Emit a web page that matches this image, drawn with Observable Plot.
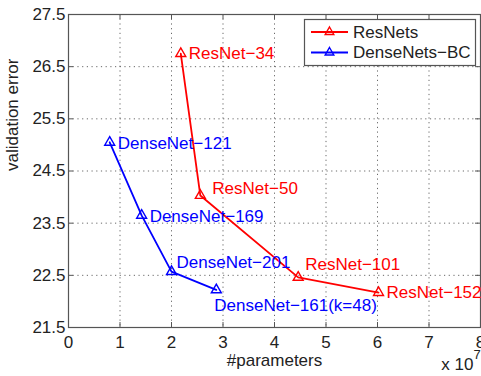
<!DOCTYPE html>
<html><head><meta charset="utf-8">
<script src="https://cdn.jsdelivr.net/npm/d3@7"></script>
<script src="https://cdn.jsdelivr.net/npm/@observablehq/plot@0.6"></script>
<style>
html,body{margin:0;padding:0;background:#fff;}
#chart{position:relative;width:481px;height:376px;overflow:hidden;}
</style></head><body><div id="chart"></div>
<script>
// ---- data ----
const resnetNames = ["ResNet−34", "ResNet−50", "ResNet−101", "ResNet−152"];
const resnetParams = [2.18, 2.56, 4.46, 6.02];   // × 10^7
const resnetError = [26.75, 24.03, 22.46, 22.17];
const densenetNames = ["DenseNet−121", "DenseNet−169", "DenseNet−201", "DenseNet−161(k=48)"];
const densenetParams = [0.80, 1.42, 2.00, 2.87]; // × 10^7
const densenetError = [25.05, 23.65, 22.57, 22.22];
const seriesNames = ["ResNets", "DenseNets−BC"];
const xTicks = [0, 1, 2, 3, 4, 5, 6, 7, 8];
const yTicks = [21.5, 22.5, 23.5, 24.5, 25.5, 26.5, 27.5];
const xLabel = "#parameters";
const yLabel = "validation error";

// ---- layout / style ----
const W = 481, H = 376;
const M = {left: 68, right: 1, top: 14, bottom: 49};
const FH = H - M.top - M.bottom, FW = W - M.left - M.right;
const colors = {ResNets: "#ff0000", "DenseNets−BC": "#0000ff"};
const labelOffset = {
  "ResNet−34": [8, 0], "ResNet−50": [12, -7], "ResNet−101": [7, -13], "ResNet−152": [8, 0],
  "DenseNet−121": [8, 1], "DenseNet−169": [8, 1], "DenseNet−201": [5, -9], "DenseNet−161(k=48)": [-2, 16]
};
const font = "'Liberation Sans', Arial, Helvetica, sans-serif";
const FS = 17;

const resnet = resnetNames.map((name, i) => ({name, params: resnetParams[i], error: resnetError[i], family: seriesNames[0]}));
const densenet = densenetNames.map((name, i) => ({name, params: densenetParams[i], error: densenetError[i], family: seriesNames[1]}));
const all = [...resnet, ...densenet];

const axisColor = "#555";
const tickLen = 5;

const plot = Plot.plot({
  width: W, height: H,
  marginLeft: M.left, marginRight: M.right, marginTop: M.top, marginBottom: M.bottom,
  style: {fontFamily: font, fontSize: FS + "px", color: "#222", background: "#fff"},
  x: {domain: [0, 8]},
  y: {domain: [21.5, 27.5]},
  marks: [
    Plot.gridX(xTicks.slice(1, -1), {stroke: "#444", strokeOpacity: 0.8, strokeDasharray: "1.2,3.5"}),
    Plot.gridY(yTicks.slice(1, -1), {stroke: "#444", strokeOpacity: 0.8, strokeDasharray: "1.2,3.5"}),
    Plot.tickX(xTicks, {x: d => d, insetTop: FH - tickLen, stroke: axisColor}),
    Plot.tickX(xTicks, {x: d => d, insetBottom: FH - tickLen, stroke: axisColor}),
    Plot.tickY(yTicks, {y: d => d, insetRight: FW - tickLen, stroke: axisColor}),
    Plot.tickY(yTicks, {y: d => d, insetLeft: FW - tickLen, stroke: axisColor}),
    Plot.frame({stroke: axisColor, strokeWidth: 1.2}),
    Plot.axisX({ticks: xTicks, tickSize: 0, tickPadding: 8, tickFormat: d3.format("d"), label: null, fill: "#222"}),
    Plot.axisY({ticks: yTicks, tickSize: 0, tickPadding: 3, tickFormat: d3.format(".1f"), label: null, fill: "#222"}),
    Plot.line(resnet, {x: "params", y: "error", stroke: colors.ResNets, strokeWidth: 1.8}),
    Plot.line(densenet, {x: "params", y: "error", stroke: colors["DenseNets−BC"], strokeWidth: 1.8}),
    Plot.dot(all, {x: "params", y: "error", symbol: "triangle", r: 3.7, fill: "none",
      stroke: d => colors[d.family], strokeWidth: 1.4}),
    ...all.map(d => Plot.text([d], {x: "params", y: "error", text: "name", textAnchor: "start",
      fill: colors[d.family], fontSize: FS, dx: labelOffset[d.name][0], dy: labelOffset[d.name][1]})),
    Plot.text([xLabel], {frameAnchor: "bottom", text: d => d, dy: 38, fontSize: FS, fill: "#222"}),
    Plot.text([yLabel], {frameAnchor: "left", text: d => d, rotate: -90, dx: -56, fontSize: FS, fill: "#222"}),
    Plot.text(["x 10"], {frameAnchor: "bottom-right", text: d => d, textAnchor: "end", dx: -7, dy: 42, fontSize: FS, fill: "#222"}),
    Plot.text(["7"], {frameAnchor: "bottom-right", text: d => d, textAnchor: "start", dx: -7, dy: 31, fontSize: 13, fill: "#222"})
  ]
});
document.getElementById("chart").appendChild(plot);

// ---- legend (inside plot, top-right) ----
const svg = d3.select(plot);
const lg = svg.append("g").attr("font-family", font).attr("font-size", FS).attr("text-anchor", "start");
lg.append("rect").attr("x", 304.5).attr("y", 19.5).attr("width", 171).attr("height", 46)
  .attr("fill", "#fff").attr("stroke", axisColor).attr("stroke-width", 1.2);
const tri = d3.symbol(d3.symbolTriangle, Math.PI * 3.2 * 3.2);
seriesNames.forEach((name, i) => {
  const y = 32 + i * 20.5;
  lg.append("line").attr("x1", 311).attr("x2", 348).attr("y1", y).attr("y2", y)
    .attr("stroke", colors[name]).attr("stroke-width", 2);
  lg.append("path").attr("d", tri()).attr("transform", `translate(329.5,${y})`)
    .attr("fill", "none").attr("stroke", colors[name]).attr("stroke-width", 1.4);
  lg.append("text").attr("x", 353).attr("y", y).attr("dy", "0.35em").attr("fill", "#222").text(name);
});
</script></body></html>
